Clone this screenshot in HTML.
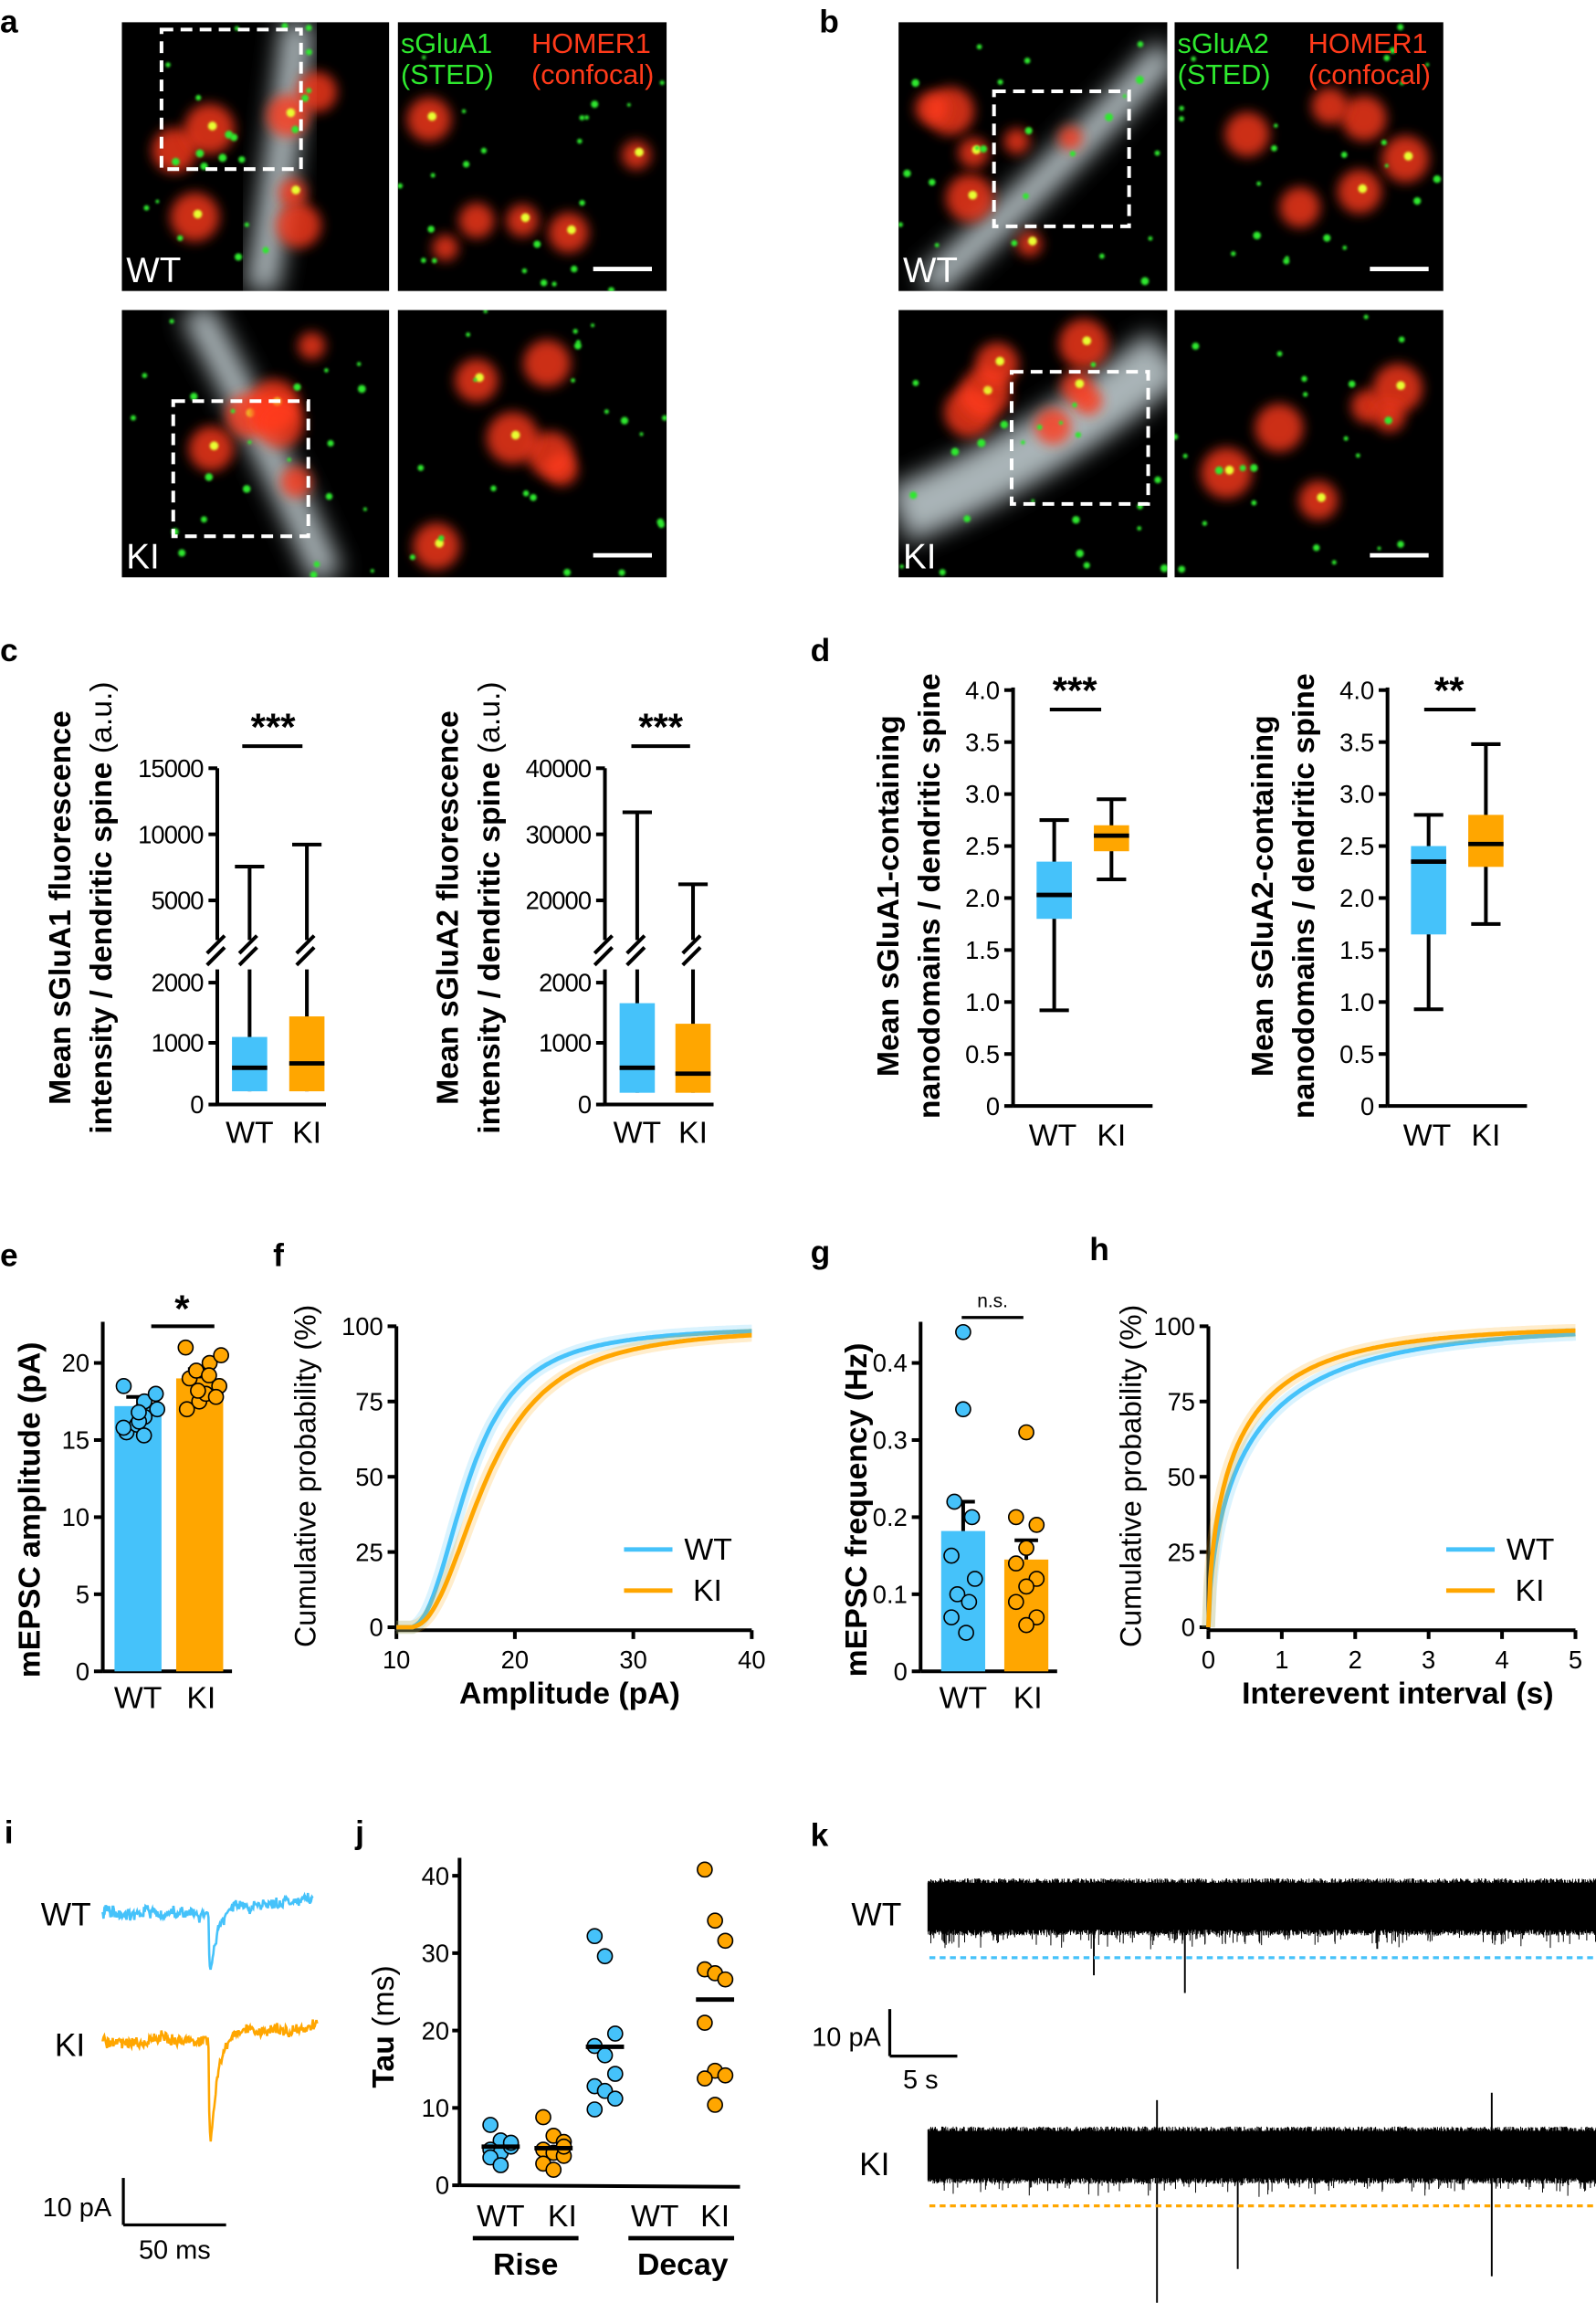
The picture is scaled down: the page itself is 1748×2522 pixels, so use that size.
<!DOCTYPE html>
<html><head><meta charset="utf-8">
<style>
html,body{margin:0;padding:0;background:#fff;}
svg{display:block;}
text{font-family:"Liberation Sans",sans-serif;}
</style></head>
<body>
<svg id="s" width="1748" height="2522" viewBox="0 0 1087 1568" xmlns="http://www.w3.org/2000/svg">
<defs>
<filter id="bl" x="-50%" y="-50%" width="200%" height="200%"><feGaussianBlur stdDeviation="8"/></filter>
<filter id="bl2" x="-50%" y="-50%" width="200%" height="200%"><feGaussianBlur stdDeviation="4"/></filter>
<filter id="bl1" x="-50%" y="-50%" width="200%" height="200%"><feGaussianBlur stdDeviation="0.8"/></filter>
<clipPath id="c1"><rect x="83" y="15" width="182" height="183"/></clipPath>
<clipPath id="c2"><rect x="271" y="15" width="183" height="183"/></clipPath>
<clipPath id="c3"><rect x="83" y="211" width="182" height="182"/></clipPath>
<clipPath id="c4"><rect x="271" y="211" width="183" height="182"/></clipPath>
<clipPath id="c5"><rect x="612" y="15" width="183" height="183"/></clipPath>
<clipPath id="c6"><rect x="800" y="15" width="183" height="183"/></clipPath>
<clipPath id="c7"><rect x="612" y="211" width="183" height="182"/></clipPath>
<clipPath id="c8"><rect x="800" y="211" width="183" height="182"/></clipPath>
</defs>
<g id="imgs"></g>
<g font-size="22">
<text x="0" y="22" font-weight="bold">a</text>
<text x="558" y="22" font-weight="bold">b</text>
<text x="0" y="450" font-weight="bold">c</text>
<text x="552" y="450" font-weight="bold">d</text>
<text x="0" y="862" font-weight="bold">e</text>
<text x="186" y="862" font-weight="bold">f</text>
<text x="552" y="860" font-weight="bold">g</text>
<text x="742" y="858" font-weight="bold">h</text>
<text x="3" y="1255" font-weight="bold">i</text>
<text x="242" y="1255" font-weight="bold">j</text>
<text x="552" y="1257" font-weight="bold">k</text>
</g>
<g id="charts" fill="none" stroke="#000" stroke-width="2.5"></g>
</svg>
<script>
var seed=12345;function rnd(){seed=(seed*1103515245+12345)%2147483648;return seed/2147483648;}
function gn(){return (rnd()+rnd()+rnd()+rnd()-2);}
var I=document.getElementById('imgs');var h='';
var boxes=[[83,15,182,183,'c1',1],[271,15,183,183,'c2',0],[83,211,182,182,'c3',1],[271,211,183,182,'c4',0],[612,15,183,183,'c5',1],[800,15,183,183,'c6',0],[612,211,183,182,'c7',1],[800,211,183,182,'c8',0]];
boxes.forEach(function(b,i){
 h+='<rect x="'+b[0]+'" y="'+b[1]+'" width="'+b[2]+'" height="'+b[3]+'" fill="#000"/>';
 h+='<g clip-path="url(#'+b[4]+')">';
 if(b[5]){
  var pts;
  if(i==0) pts=[[b[0]+120,b[1]],[b[0]+110,b[1]+90],[b[0]+95,b[1]+183]];
  else if(i==2) pts=[[b[0]+50,b[1]],[b[0]+100,b[1]+90],[b[0]+140,b[1]+182]];
  else if(i==4) pts=[[b[0]+183,b[1]+20],[b[0]+110,b[1]+100],[b[0]+20,b[1]+180]];
  else pts=[[b[0]+183,b[1]+30],[b[0]+100,b[1]+100],[b[0],b[1]+140]];
  h+='<path d="M'+pts[0]+' Q'+pts[1]+' '+pts[2]+'" stroke="#c8d4d8" stroke-width="'+(i==6?40:22)+'" fill="none" filter="url(#bl)" opacity="0.85"/>';
 }
 var nb=b[5]?7:6;
 for(var k=0;k<nb;k++){var x=b[0]+20+rnd()*(b[2]-40),y=b[1]+20+rnd()*(b[3]-40),r=8+rnd()*10;
  h+='<circle cx="'+x+'" cy="'+y+'" r="'+r+'" fill="#ff3a1a" filter="url(#bl2)" opacity="0.8"/>';
  if(rnd()>0.5)h+='<circle cx="'+(x+2)+'" cy="'+(y-2)+'" r="3" fill="#e8ff30" filter="url(#bl1)"/>';}
 for(var k=0;k<22;k++){var x=b[0]+rnd()*b[2],y=b[1]+rnd()*b[3];
  h+='<circle cx="'+x+'" cy="'+y+'" r="'+(1.2+rnd()*1.6)+'" fill="#2ee82e" filter="url(#bl1)"/>';}
 h+='</g>';
 if(b[5]){var dx=(i==0)?[110,20,95,95]:(i==2)?[118,273,92,92]:(i==4)?[677,62,92,92]:[689,253,93,90];
  h+='<rect x="'+dx[0]+'" y="'+dx[1]+'" width="'+dx[2]+'" height="'+dx[3]+'" fill="none" stroke="#fff" stroke-width="2.5" stroke-dasharray="8,5"/>';
  var lab=(i<4)?(i==0?'WT':'KI'):(i==4?'WT':'KI');
  h+='<text x="'+(b[0]+3)+'" y="'+(b[1]+b[3]-6)+'" font-size="24" fill="#fff">'+lab+'</text>';
 } else {h+='<line x1="'+(b[0]+b[2]-50)+'" y1="'+(b[1]+b[3]-15)+'" x2="'+(b[0]+b[2]-10)+'" y2="'+(b[1]+b[3]-15)+'" stroke="#fff" stroke-width="3"/>';}
});
h+='<text x="273" y="36" font-size="19" fill="#2ee82e">sGluA1</text><text x="273" y="57" font-size="19" fill="#2ee82e">(STED)</text>';
h+='<text x="362" y="36" font-size="19" fill="#ff3a1a">HOMER1</text><text x="362" y="57" font-size="19" fill="#ff3a1a">(confocal)</text>';
h+='<text x="802" y="36" font-size="19" fill="#2ee82e">sGluA2</text><text x="802" y="57" font-size="19" fill="#2ee82e">(STED)</text>';
h+='<text x="891" y="36" font-size="19" fill="#ff3a1a">HOMER1</text><text x="891" y="57" font-size="19" fill="#ff3a1a">(confocal)</text>';
I.innerHTML=h;

var C='';var BL='#45c2fa',OR='#ffa600';
function T(x,y,s,fs,anch,extra){C+='<text x="'+x+'" y="'+y+'" font-size="'+(fs||16)+'" text-anchor="'+(anch||'end')+'" fill="#000" stroke="none" '+(extra||'')+'>'+s+'</text>';}
function L(x1,y1,x2,y2,w,c,extra){C+='<line x1="'+x1+'" y1="'+y1+'" x2="'+x2+'" y2="'+y2+'" stroke="'+(c||'#000')+'" stroke-width="'+(w||2.5)+'" '+(extra||'')+'/>';}
function R(x,y,w,hh,c){C+='<rect x="'+x+'" y="'+y+'" width="'+w+'" height="'+hh+'" fill="'+c+'" stroke="none"/>';}
function VL(x,y,lines,fs){C+='<text transform="translate('+x+','+y+') rotate(-90)" font-size="'+fs+'" text-anchor="middle" fill="#000" stroke="none">'+lines+'</text>';}
function brk(x,y){L(x-7,y+4,x+5,y-8,2.5);L(x-7,y+12,x+5,y);}
function boxc(x,w,q1,q3,med,wlo,whi,col,cap,br){L(x+w/2,wlo,x+w/2,whi);if(cap)L(x+w/2-10,whi,x+w/2+10,whi);R(x,q3,w,q1-q3,col);L(x,med,x+w,med,3);if(br){C+='<rect x="'+(x+w/2-8)+'" y="640" width="16" height="20" fill="#fff" stroke="none"/>';brk(x+w/2,645);}}
(function(){var ax=148;L(ax,523,ax,752);L(ax,752,222,752);
[[752,'0'],[710,'1000'],[669,'2000'],[613,'5000'],[568,'10000'],[523,'15000']].forEach(function(t){L(ax-6,t[0],ax,t[0]);T(ax-9,t[0]+6,t[1],17,'end','textLength="'+(t[1].length*9)+'"');});
C+='<rect x="142" y="640" width="12" height="20" fill="#fff" stroke="none"/>';brk(ax,645);
boxc(158,24,743,706,727,743,590,BL,1,1);boxc(197,24,743,692,724,743,575,OR,1,1);
L(165,508,206,508);T(186,504,'***',26,'middle','font-weight="bold"');T(170,778,'WT',21,'middle');T(209,778,'KI',21,'middle');
VL(48,618,'<tspan font-weight="bold">Mean sGluA1  fluorescence</tspan>',21);VL(76,618,'<tspan font-weight="bold">intensity  / dendritic spine</tspan> (a.u.)',21);
})();
(function(){var ax=412;L(ax,523,ax,752);L(ax,752,486,752);
[[752,'0'],[710,'1000'],[669,'2000'],[613,'20000'],[568,'30000'],[523,'40000']].forEach(function(t){L(ax-6,t[0],ax,t[0]);T(ax-9,t[0]+6,t[1],17,'end','textLength="'+(t[1].length*9)+'"');});
C+='<rect x="406" y="640" width="12" height="20" fill="#fff" stroke="none"/>';brk(ax,645);
boxc(422,24,744,683,727,744,553,BL,1,1);boxc(460,24,744,697,731,744,602,OR,1,1);
L(430,508,470,508);T(450,504,'***',26,'middle','font-weight="bold"');T(434,778,'WT',21,'middle');T(472,778,'KI',21,'middle');
VL(312,618,'<tspan font-weight="bold">Mean sGluA2  fluorescence</tspan>',21);VL(340,618,'<tspan font-weight="bold">intensity  / dendritic spine</tspan> (a.u.)',21);
})();
function dchart(ax,wt,ki,stars,l1){var y0=753,k=70.8;function Y(v){return y0-v*k;}
L(ax,468,ax,y0);L(ax,y0,785+(ax-690),y0);
for(var v=0;v<=4;v+=0.5){L(ax-6,Y(v),ax,Y(v));T(ax-9,Y(v)+6,v==0?'0':v.toFixed(1),17);}
boxc(ax+16,24,Y(wt[0]),Y(wt[1]),Y(wt[2]),Y(wt[3]),Y(wt[4]),BL,1,0);L(ax+18,Y(wt[3]),ax+38,Y(wt[3]));
boxc(ax+55,24,Y(ki[0]),Y(ki[1]),Y(ki[2]),Y(ki[3]),Y(ki[4]),OR,1,0);L(ax+57,Y(ki[3]),ax+77,Y(ki[3]));
L(ax+25,483,ax+60,483);T(ax+42,479,stars,26,'middle','font-weight="bold"');
T(ax+27,780,'WT',21,'middle');T(ax+67,780,'KI',21,'middle');
VL(ax-78,610,'<tspan font-weight="bold">'+l1+'</tspan>',21);VL(ax-50,610,'<tspan font-weight="bold">nanodomains  / dendritic spine</tspan>',21);}
dchart(690,[1.8,2.35,2.03,0.92,2.75],[2.45,2.7,2.6,2.18,2.95],'***','Mean sGluA1-containing');
dchart(945,[1.65,2.5,2.35,0.93,2.8],[2.3,2.8,2.52,1.75,3.48],'**','Mean sGluA2-containing');
(function(){var ax=70,y0=1138,k=10.5;function Y(v){return y0-v*k;}
L(ax,900,ax,y0);L(ax,y0,158,y0);[0,5,10,15,20].forEach(function(v){L(ax-6,Y(v),ax,Y(v));T(ax-9,Y(v)+6,v,17);});
R(78,Y(17.2),32,y0-Y(17.2),BL);R(120,Y(19),32,y0-Y(19),OR);
L(94,Y(17.2),94,Y(17.8));L(86,Y(17.8),102,Y(17.8));L(136,Y(19),136,Y(19.6));L(128,Y(19.6),144,Y(19.6));
[15.5,16,16.5,17,15.8,16.2,17.5,18,18.5,16.8,15.3].forEach(function(v,i){C+='<circle cx="'+(84+(i%4)*7+rnd()*4)+'" cy="'+Y(v)+'" r="5" fill="'+BL+'" stroke="#000" stroke-width="1"/>';});
[17,17.5,18,18.5,19,19.5,20,20.5,21,18.2,19.2,17.8].forEach(function(v,i){C+='<circle cx="'+(126+(i%4)*7+rnd()*4)+'" cy="'+Y(v)+'" r="5" fill="'+OR+'" stroke="#000" stroke-width="1"/>';});
L(103,903,146,903);T(124,900,'*',26,'middle','font-weight="bold"');
T(94,1163,'WT',21,'middle');T(137,1163,'KI',21,'middle');
VL(27,1028,'<tspan font-weight="bold">mEPSC amplitude (pA)</tspan>',21);})();
function curve(X,Y,f,n,col,band){var p='';for(var i=0;i<=n;i++){var t=i/n;var v=f(t);p+=(i?'L':'M')+X(t).toFixed(1)+','+Y(v).toFixed(1);}
if(band)C+='<path d="'+p+'" stroke="'+col+'" stroke-opacity="0.2" stroke-width="9" fill="none"/>';
C+='<path d="'+p+'" stroke="'+col+'" stroke-width="3" fill="none"/>';}
(function(){var x0=270,x1=512,y0=1108,y1=903;function X(a){return x0+(a-10)/30*(x1-x0);}function Y(v){return y0-v/100*(y0-y1);}
L(x0,y1,x0,y0+2);L(x0,y0+2,x1,y0+2);[0,25,50,75,100].forEach(function(v){L(x0-6,Y(v),x0,Y(v));T(x0-9,Y(v)+6,v,17);});
[10,20,30,40].forEach(function(a){L(X(a),y0+2,X(a),y0+8);T(X(a),y0+28,a,17,'middle');});
function cdf(m,s){return function(t){var a=10+t*30;if(a<11.5)return 0;var z=Math.log(a-11)-Math.log(m);return 100/(1+Math.exp(-z/s));};}
curve(function(t){return X(10+t*30);},Y,cdf(5.2,0.42),200,BL,1);
curve(function(t){return X(10+t*30);},Y,cdf(6.7,0.42),200,OR,1);
L(425,1055,458,1055,3,BL);T(466,1062,'WT',21,'start');L(425,1083,458,1083,3,OR);T(472,1090,'KI',21,'start');
T(388,1160,'Amplitude (pA)',21,'middle','font-weight="bold"');
VL(215,1005,'Cumulative probability (%)',20);})();
(function(){var ax=627,y0=1138,k=525;function Y(v){return y0-v*k;}
L(ax,900,ax,y0);L(ax,y0,720,y0);[0,0.1,0.2,0.3,0.4].forEach(function(v){L(ax-6,Y(v),ax,Y(v));T(ax-9,Y(v)+6,v==0?'0':v.toFixed(1),17);});
R(641,Y(0.182),30,y0-Y(0.182),BL);R(684,Y(0.145),30,y0-Y(0.145),OR);
L(656,Y(0.182),656,Y(0.22));L(648,Y(0.22),664,Y(0.22));L(699,Y(0.145),699,Y(0.17));L(691,Y(0.17),707,Y(0.17));
[[656,0.44],[656,0.34],[650,0.22],[662,0.2],[648,0.15],[664,0.12],[652,0.1],[660,0.09],[648,0.07],[658,0.05]].forEach(function(d){C+='<circle cx="'+d[0]+'" cy="'+Y(d[1])+'" r="5" fill="'+BL+'" stroke="#000" stroke-width="1"/>';});
[[699,0.31],[692,0.2],[706,0.19],[699,0.16],[692,0.14],[706,0.12],[699,0.11],[692,0.09],[706,0.07],[699,0.06]].forEach(function(d){C+='<circle cx="'+d[0]+'" cy="'+Y(d[1])+'" r="5" fill="'+OR+'" stroke="#000" stroke-width="1"/>';});
L(655,897,697,897,2);T(676,890,'n.s.',13,'middle');
T(656,1163,'WT',21,'middle');T(700,1163,'KI',21,'middle');
VL(590,1028,'<tspan font-weight="bold">mEPSC frequency (Hz)</tspan>',21);})();
(function(){var x0=823,x1=1073,y0=1108,y1=903;function X(a){return x0+a/5*(x1-x0);}function Y(v){return y0-v/100*(y0-y1);}
L(x0,y1,x0,y0+2);L(x0,y0+2,x1,y0+2);[0,25,50,75,100].forEach(function(v){L(x0-6,Y(v),x0,Y(v));T(x0-9,Y(v)+6,v,17);});
[0,1,2,3,4,5].forEach(function(a){L(X(a),y0+2,X(a),y0+8);T(X(a),y0+28,a,17,'middle');});
function c(tau,p){return function(t){var a=t*5;return 100*(1-Math.exp(-Math.pow(a/tau,p)));};}
curve(function(t){return X(t*5);},Y,c(0.62,0.62),200,BL,1);
curve(function(t){return X(t*5);},Y,c(0.45,0.6),200,OR,1);
L(985,1055,1018,1055,3,BL);T(1026,1062,'WT',21,'start');L(985,1083,1018,1083,3,OR);T(1032,1090,'KI',21,'start');
T(952,1160,'Interevent interval (s)',21,'middle','font-weight="bold"');
VL(777,1005,'Cumulative probability (%)',20);})();
function mini(x0,y0,w,amp,col){var p='M'+x0+','+y0;var n=300;var b=0;for(var i=0;i<=n;i++){var x=x0+i*w/n;b+=gn()*1.6;b*=0.88;var y=y0+b+gn()*3;var t=(x-(x0+72));if(t>0){y+=amp*(Math.exp(-t/5)-Math.exp(-t/0.6));y-=8*(1-Math.exp(-t/8));}p+='L'+x.toFixed(1)+','+y.toFixed(1);}C+='<path d="'+p+'" stroke="'+col+'" stroke-width="1.6" fill="none"/>';}
mini(70,1303,143,60,BL);mini(70,1390,146,105,OR);
T(62,1311,'WT',22,'end');T(58,1400,'KI',22,'end');
L(84,1483,84,1515,2);L(84,1515,154,1515,2);T(76,1509,'10 pA',18,'end');T(119,1538,'50 ms',18,'middle');
(function(){var ax=313,y0=1488,k=5.27;function Y(v){return y0-v*k;}
L(ax,1265,ax,y0);L(ax,y0,504,y0+1);[0,10,20,30,40].forEach(function(v){L(ax-5,Y(v),ax,Y(v));T(ax-7,Y(v)+6,v,17);});
function pts(cx,vals,col,mean){vals.forEach(function(v,i){C+='<circle cx="'+(cx+((i%3)-1)*7)+'" cy="'+Y(v)+'" r="5" fill="'+col+'" stroke="#000" stroke-width="1"/>';});L(cx-13,Y(mean),cx+13,Y(mean),3);}
pts(341,[7.8,5.8,5.2,4.6,4.2,5,3.6,2.6,5.5],BL,5);
pts(377,[8.8,6.4,5.6,4.6,4.2,3.8,2.8,2,5],OR,4.8);
pts(412,[32.2,29.6,19.6,18,16.8,14.4,12.8,12.2,11.2,9.8],BL,17.9);
pts(487,[40.8,34.2,31.6,27.9,27.4,26.6,21,14.8,14.2,13.8,10.4],OR,24);
T(341,1516,'WT',21,'middle');T(383,1516,'KI',21,'middle');T(446,1516,'WT',21,'middle');T(487,1516,'KI',21,'middle');
L(322,1524,394,1524,3);L(428,1524,500,1524,3);
T(358,1549,'Rise',21,'middle','font-weight="bold"');T(465,1549,'Decay',21,'middle','font-weight="bold"');
VL(268,1380,'<tspan font-weight="bold">Tau</tspan> (ms)',21);})();
function big(y0,col,dash,spikesDown,spikesUp){var p='';var n=1800;for(var i=0;i<=n;i++){var x=632+i*455/n;p+=(i?'L':'M')+x.toFixed(1)+','+(y0-19+rnd()*5).toFixed(1)+'L'+x.toFixed(1)+','+(y0+15+rnd()*5+(rnd()>0.9?rnd()*10:0)).toFixed(1);}
C+='<rect x="632" y="'+(y0-16)+'" width="455" height="32" fill="#000" stroke="none"/>';
C+='<path d="'+p+'" stroke="#000" stroke-width="0.6" fill="none"/>';
spikesDown.forEach(function(s){L(s[0],y0,s[0],s[1],1.2);});spikesUp.forEach(function(s){L(s[0],y0,s[0],s[1],1.2);});
L(633,dash,1087,dash,2,col,'stroke-dasharray="4,3"');}
big(1298,BL,1333,[[745,1345],[807,1357],[938,1327]],[]);
big(1467,OR,1502,[[788,1568],[843,1545],[1016,1550]],[[788,1430],[1016,1425]]);
T(614,1311,'WT',22,'end');T(606,1481,'KI',22,'end');
L(606,1368,606,1400,2);L(606,1400,652,1400,2);T(600,1393,'10 pA',18,'end');T(627,1422,'5 s',18,'middle');
document.getElementById('charts').innerHTML=C;
</script>
</body></html>
